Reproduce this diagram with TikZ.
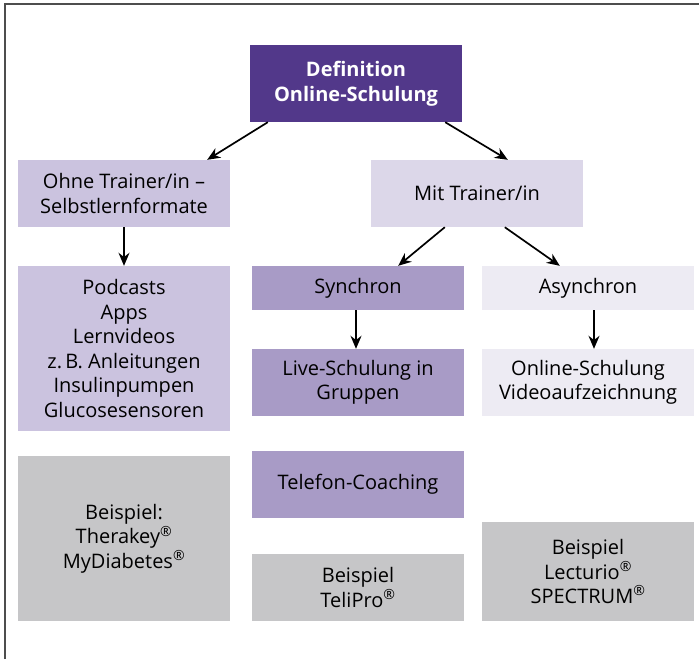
\documentclass[tikz,border=0pt]{standalone}
\usepackage{fontspec}
\setmainfont{Open Sans}
\usetikzlibrary{arrows.meta}
\definecolor{cDef}{HTML}{52388A}
\definecolor{cOhne}{HTML}{CBC3DF}
\definecolor{cMit}{HTML}{DCD7E9}
\definecolor{cSyn}{HTML}{A89BC6}
\definecolor{cAsy}{HTML}{EDEBF3}
\definecolor{cGrey}{HTML}{C6C6C8}
\definecolor{cFrame}{HTML}{4D4D4D}
\newcommand{\reg}{\textsuperscript{®}}
\begin{document}
\begin{tikzpicture}[x=1pt,y=-1pt,
  box/.style={rectangle, inner sep=0pt, minimum width=212pt, align=center,
    font=\fontsize{20}{24.5}\selectfont, text=black},
  arr/.style={line width=1.7pt, -{Stealth[length=13pt,width=11pt]}}]
\useasboundingbox (0,0) rectangle (699,659);
\draw[cFrame, line width=2pt] (5,659) -- (5,4) -- (699,4);
\node[box, fill=cDef, text=white, minimum height=77pt, font=\fontsize{20}{24.5}\selectfont\bfseries] (def) at (356,83.5) {Definition\\Online-Schulung};
\node[box, fill=cOhne, minimum height=67pt] (ohne) at (124,193.5) {Ohne Trainer/in –\\Selbstlernformate};
\node[box, fill=cMit, minimum height=67pt] (mit) at (477,193.5) {Mit Trainer/in};
\node[box, fill=cOhne, minimum height=165pt] (pod) at (124,348.5) {Podcasts\\Apps\\Lernvideos\\z.\,B. Anleitungen\\Insulinpumpen\\Glucosesensoren};
\node[box, fill=cSyn, minimum height=44pt] (syn) at (358,288) {Synchron};
\node[box, fill=cAsy, minimum height=44pt] (asy) at (588,288) {Asynchron};
\node[box, fill=cSyn, minimum height=67pt] (live) at (358,382.5) {Live-Schulung in\\Gruppen};
\node[box, fill=cAsy, minimum height=67pt] (vid) at (588,382.5) {Online-Schulung\\Videoaufzeichnung};
\node[box, fill=cSyn, minimum height=67pt] (tel) at (358,484.5) {Telefon-Coaching};
\node[box, fill=cGrey, minimum height=165pt] (thera) at (124,538.5) {Beispiel:\\Therakey\reg\\MyDiabetes\reg};
\node[box, fill=cGrey, minimum height=67pt] (teli) at (358,587.5) {Beispiel\\TeliPro\reg};
\node[box, fill=cGrey, minimum height=99pt] (lect) at (588,571.5) {Beispiel\\Lecturio\reg\\SPECTRUM\reg};
\draw[arr] ([xshift=18pt]def.south west) -- ([xshift=-23pt]ohne.north east);
\draw[arr] ([xshift=-17pt]def.south east) -- ([xshift=137pt]mit.north west);
\draw[arr] ([xshift=74pt]mit.south west) -- ([xshift=-66pt]syn.north east);
\draw[arr] ([xshift=134pt]mit.south west) -- ([xshift=78pt]asy.north west);
\draw[arr] (ohne.south) -- (pod.north);
\draw[arr] ([xshift=-2pt]syn.south) -- ([xshift=-2pt]live.north);
\draw[arr] ([xshift=6pt]asy.south) -- ([xshift=6pt]vid.north);
\end{tikzpicture}
\end{document}
